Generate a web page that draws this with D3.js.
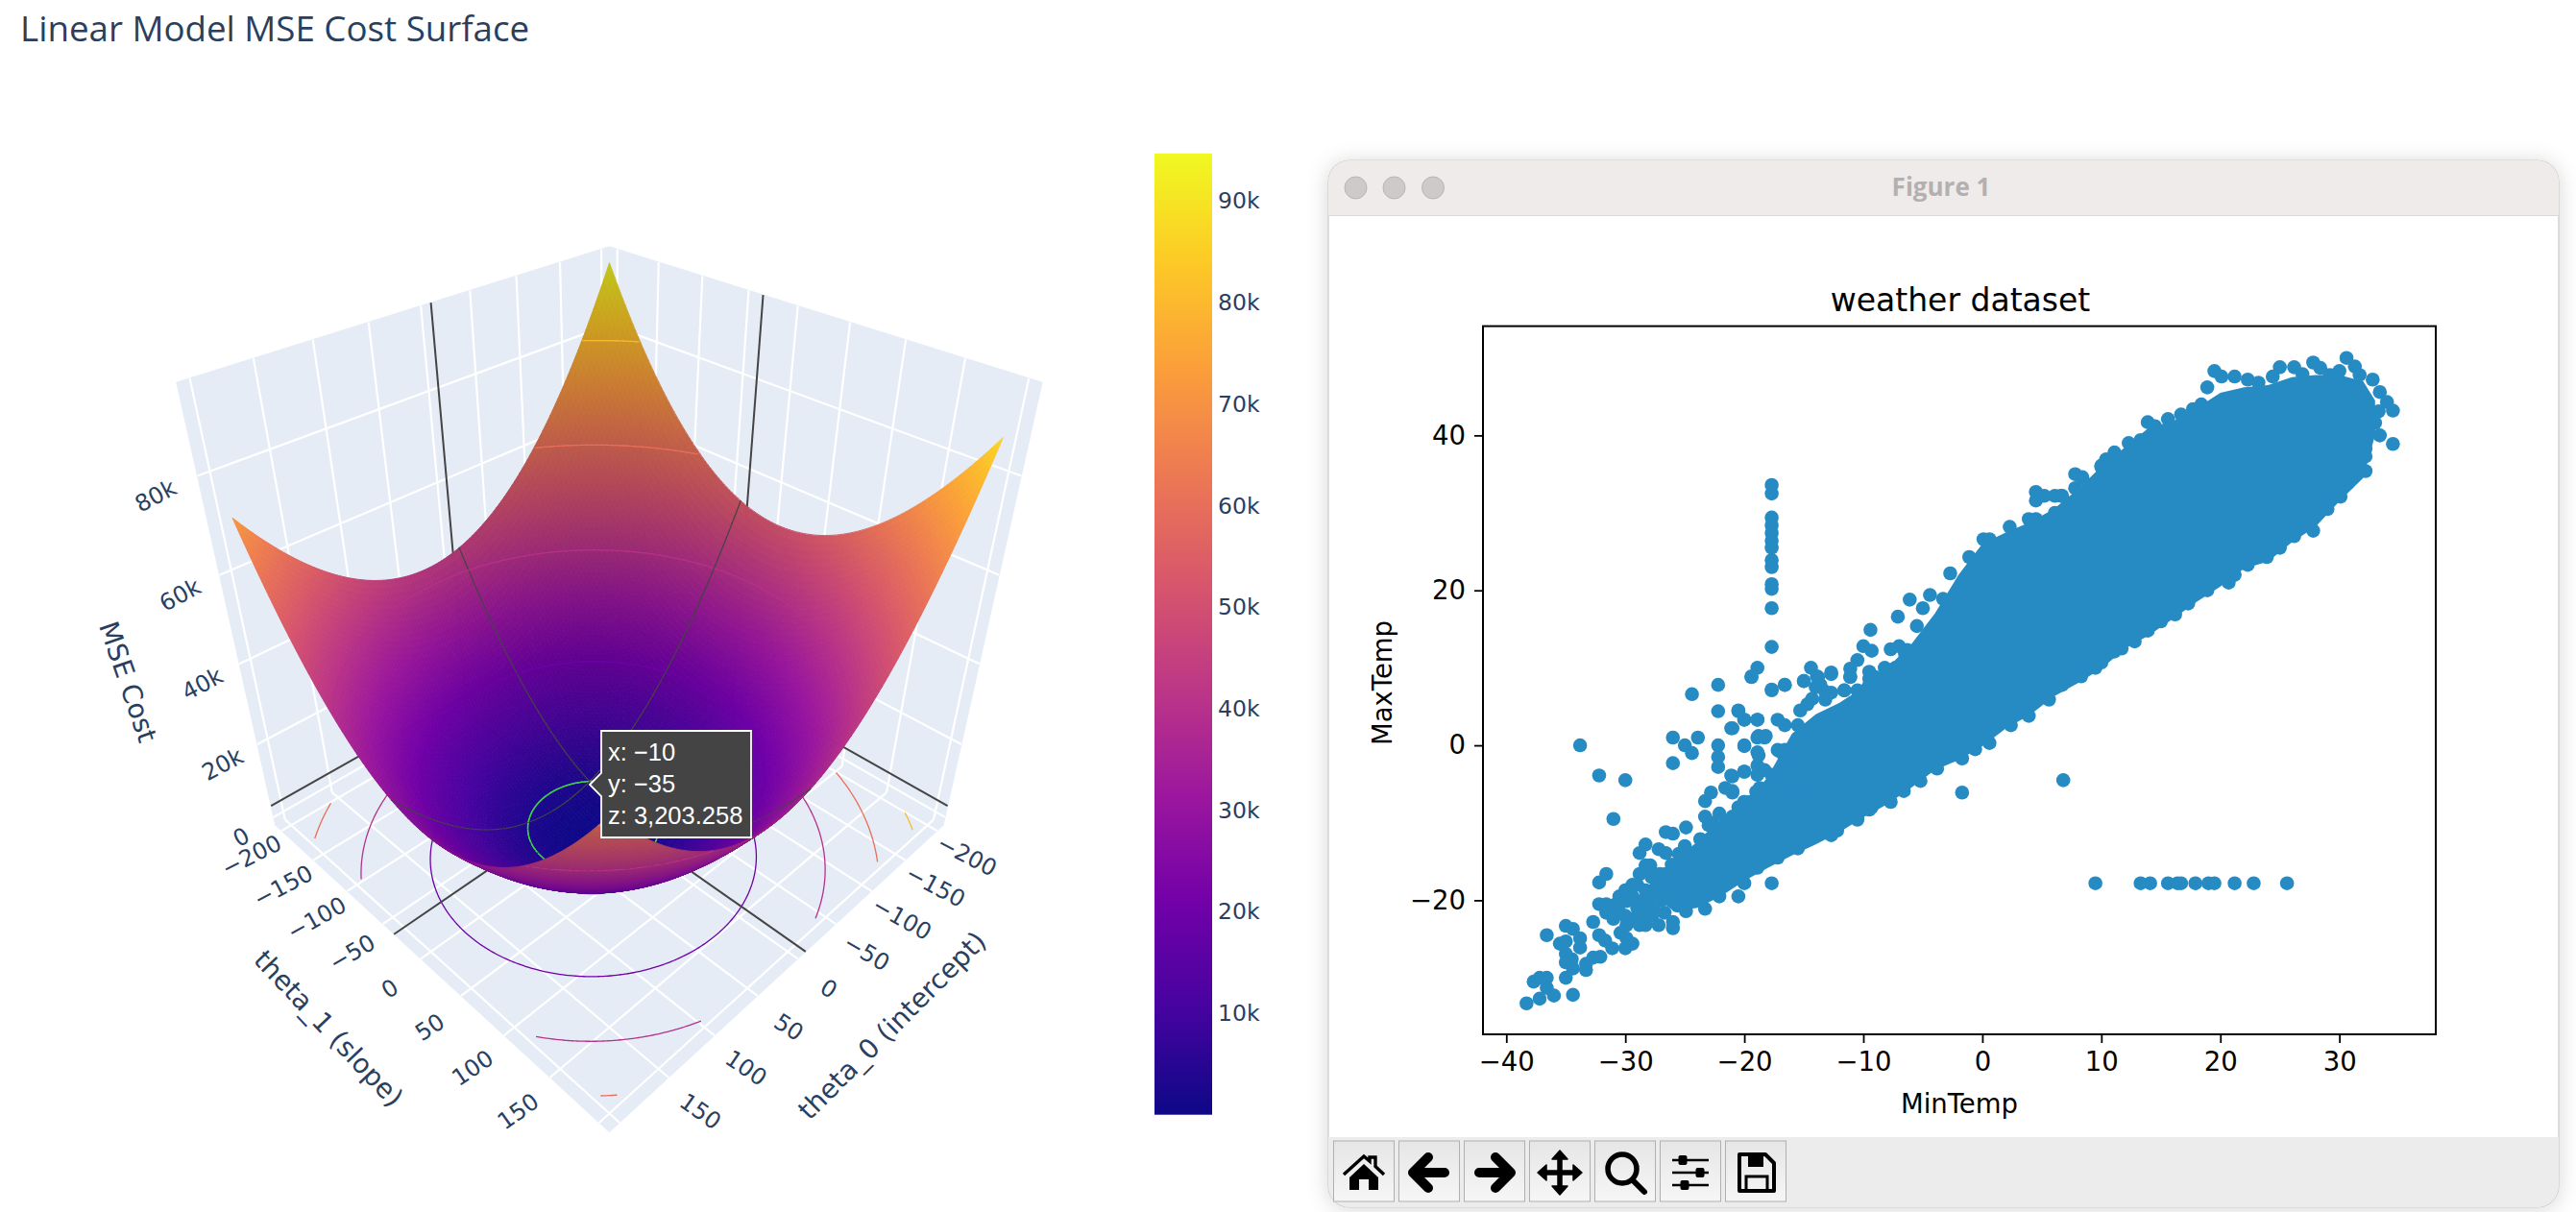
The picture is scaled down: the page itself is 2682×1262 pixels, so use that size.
<!DOCTYPE html>
<html><head><meta charset="utf-8">
<script src="https://cdn.jsdelivr.net/npm/d3@7"></script>
<style>html,body{margin:0;padding:0;background:#fff}svg{display:block}</style>
</head><body><svg id="c" width="2682" height="1262"></svg>
<script>
// ---------- data: cost surface ----------
const theta0Nodes=[-200,-150,-100,-50,0,50,100,150,195];
const theta1Nodes=[-200,-150,-100,-50,0,50,100,150,195];
const costRows=[
[94613,76363,63113,54863,51613,53363,60113,71863,86713],
[74413,56163,42913,34663,31413,33163,39913,51663,66513],
[59213,40963,27713,19463,16213,17963,24713,36463,51313],
[49013,30763,17513,9263,6013,7763,14513,26263,41113],
[43813,25563,12313,4063,813,2563,9313,21063,35913],
[43613,25363,12113,3863,613,2363,9113,20863,35713],
[48413,30163,16913,8663,5413,7163,13913,25663,40513],
[58213,39963,26713,18463,15213,16963,23713,35463,50313],
[71308,53058,39808,31558,28308,30058,36808,48558,63408]];
const plasmaColors=["#0d0887","#46039f","#7201a8","#9c179e","#bd3786","#d8576b","#ed7953","#fb9f3a","#fdca26","#f0f921"];
const contourLevels=[20000,40000,60000,80000];
const hoverPoint={x:-10,y:-35,z:3203.258};
const hoverLines=["x: \u221210","y: \u221235","z: 3,203.258"];
const gridTicks=[-200,-150,-100,-50,0,50,100,150,200];
const labelTicks=[-200,-150,-100,-50,0,50,100,150];
const zTicks=[0,20000,40000,60000,80000];
const colorbarTicks=[10000,20000,30000,40000,50000,60000,70000,80000,90000];
// ---------- data: weather scatter ----------
const coreMinTemp=[-28,-26,-24,-22,-20,-18,-16,-14,-12,-10,-8,-6,-4,-2,0,2,4,6,8,10,12,14,16,18,20,22,24,26,28,30,32,33];
const coreLow=[-19,-21.3,-21,-19.5,-17.5,-15.8,-14.2,-12.8,-11.2,-9.3,-7.6,-5.5,-3.2,-1.9,-0.1,2.2,3.9,6.3,8,9.9,12.5,14.2,16.3,18.5,20.5,22.8,23.7,26.2,28.2,31.5,34.5,40];
const coreHigh=[-18,-15,-12.5,-9.5,-8,-4,1.5,4,5.5,7.5,10,13,17,22,26,27.5,28.8,30.5,33,36,38.5,41,41.8,43.5,45.5,46.2,46.5,47.5,47.8,47.8,47,44.5];
const weatherPoints=[
[-38.3,-33.3],[-37.2,-32.7],[-36,-32.3],[-34.4,-32.2],[-37.7,-30.5],[-37.2,-30],[-36.6,-30],[-36.6,-31.3],[-35,-30],[-33.3,-29],
[-36.6,-24.5],[-35,-23.3],[-34.4,-23.7],[-35.5,-25.6],[-35,-25.3],[-33.8,-24.9],[-35,-26.9],[-35,-28],[-34.4,-28.8],[-33.8,-26.1],
[-34.5,-27.6],[-32.7,-27.4],[-32.1,-27.3],[-33.3,-28.2],[-32.7,-22.8],[-32.2,-24.5],[-31.1,-26.2],[-30,-26.2],[-29.4,-25.6],[-31.7,-25.2],
[-32.2,-20.5],[-31.6,-20.5],[-31.6,-21.6],[-31,-22.4],[-30.5,-19.5],[-30,-18.7],[-29.4,-18],[-29.9,-20.1],[-29.4,-19.5],[-29.9,-23.2],
[-30.4,-24.2],[-29.4,-22.4],[-29.9,-24.9],[-28.8,-23.2],[-28.3,-23.2],[-27.2,-23.2],[-26,-23.6],[-26,-22.8],[-32.2,-17.7],[-31.6,-16.6],
[-28.8,-13.9],[-28.3,-12.8],[-27.2,-13.4],[-26.6,-13.9],[-26.6,-11.2],[-26,-11.4],[-24.9,-10.6],[-28.3,-15.5],[-28.8,-16.6],[-27.8,-17],
[-27.1,-16.6],[-26.6,-16.6],[-28.3,-18.7],[-27.2,-18.7],[-28,-20.7],[-27.8,-22],[-26.7,-21.6],[-25.6,-20.7],[-24.9,-21.4],[-24.5,-19.9],
[-23.3,-21.1],[-22.1,-19.5],[-20.5,-19.5],[-20,-17.8],[-17.7,-17.8],[-18.9,-15.8],[-17.7,-14.5],[-17.2,-14.5],[-15.5,-13.3],[-12.7,-11.6],
[-12.2,-11],[-14.4,-11.6],[-10.5,-9.4],[-9.3,-8],[-24.4,6.6],[-22.2,7.8],[-19.4,8.8],[-17.7,7.1],[-16.6,7.8],[-15,8.3],[-13.8,8.8],[-12.7,9.2],
[-11.1,8.8],[-11.6,7.1],[-10.5,7.1],[-9.5,8.6],[-22.2,4.4],[-20.5,4.4],[-20,3.3],[-18.9,3.3],[-21.1,2.2],[-17.2,3.3],[-16.6,2.6],[-15.5,2.6],
[-26,1],[-23.9,1],[-25,0],[-24.4,-1],[-26,-2.3],[-22.2,0],[-22.2,-1.5],[-22.2,-2.8],[-20,0],[-18.9,1],[-18.3,1],[-18.9,-0.9],[-18.9,-2.6],
[-17.2,-0.6],[-16.6,-0.6],[-15.5,0.5],[-21.1,-3.9],[-20,-3.4],[-18.9,-3.8],[-17.7,-3.8],[-16.6,-3.2],[-18.7,-5.5],[-21.6,-5.5],[-21,-6.1],
[-22.8,-6.1],[-23.3,-7.2],[-23.3,-9.2],[-20,-7.3],[-33.8,0],[-32.2,-3.9],[-30,-4.5],[-31,-9.5],[-24.5,-15.4],[-26.1,-15.4],[-23.7,-12.1],
[-22.1,-8.8],[-20.5,-8],[-17.8,-6.3],
[-29,-21],[-28.5,-20],[-27.5,-21.5],[-27,-20],[-28.5,-22],[-29,-18],[-27.5,-19.5],[-27.9,-15.5],[-29,-20.5],[-30.5,-21.5],[-30.8,-20.5],[-30,-22],[-28.3,-21.5],[-25,-18],[-25.5,-17.5],
[-24.3,-14],[-25,-13],[-25.5,-14],[-23,-10.3],[-22.7,-10],[-21,-9.2],[-19.5,-7.3],[-18,-7.3],[-16.8,-1],[-16.5,-4],[-16,-2],[-15.7,-6],[-17,-6],[-18,-5.5],[-19,-6],
[-14.3,6],[-13.2,5.9],[-12.7,6.8],[-14.7,5.3],[-15.3,4.5],[-11,5.2],[-9.5,9.5],[-9,8.8],[-8.7,7.7],[-9.6,7.5],[-8,9],[-7.3,10],[-6.5,11.8],[-6.3,12.3],[-14,7.5],[-13.6,7.8],
[-17.7,33.6],[-17.7,32.5],[-17.7,29.4],[-17.7,28.4],[-17.7,27.4],[-17.7,26.4],[-17.7,25.5],[-17.7,23.9],[-17.7,23],[-17.7,20.8],[-17.7,20.2],[-17.7,17.7],[-17.7,12.7],[-17.7,7.2],
[-18.9,10],[-19.4,8.9],[-16.6,7.8],[-20.5,4.5],[-20,3.3],[-18.9,3.3],[-21,2.2],[-20,-0.1],[-18.8,1.2],[-18.2,1.2],[-18.8,-1.3],[-17.1,-0.7],
[-20,-3.4],[-21,-4],[-21,-5.9],[-20,-7.3],[-18.3,-3.2],
[-14.4,10],[-15,8.3],[-13.9,8.9],[-12.7,9.4],[-13.2,6.9],[-11.6,7.1],[-11.1,8.9],[-11.1,9.9],[-10.5,11],[-10,12.8],[-9.3,12.2],[-9.4,14.9],
[-8.2,10],[-7.7,12.4],[-7,12.8],[-7.1,16.6],[-6.1,18.8],[-5.5,15.4],[-5,17.7],[-4.4,19.4],[-5,13.3],[-2.7,22.2],[-3.3,18.9],[-1.1,24.3],[0.1,26.6],[0.6,26.6],
[2.3,28.2],[3.9,29.2],[4.5,29.2],[4.5,32.7],[4.5,31.6],[5.2,32.2],[6.1,32.2],[6.7,32.2],[6.1,30],[7.8,35],[8.4,34.6],[7.8,33.2],[10,35.9],[-1.7,-6.1],[6.8,-4.5],
[19.5,48.3],[18.9,46.2],[20.1,47.6],[21.2,47.6],[22.3,47.2],[18.4,44],[17.7,43.4],[16.7,42.7],[15.6,42.1],[13.9,41.7],[14.5,41.2],[12.3,39],[13.3,39.4],[11.1,37.8],
[10.4,36.9],[10,36.1],[8.4,34.4],[6.6,32.2],[25,48.8],[26.2,48.8],[27.8,49.4],[28.4,48.7],[24.4,47.6],[30.6,50],[31.3,48.9],[30,48.3],[31.7,47.8],[32.8,47.2],
[29.2,47.8],[26.9,47.9],[23.2,46.8],
[33.4,45.6],[34,44.3],[34.5,43.2],[33.3,43.1],[33,41.6],[33.4,40],[34.5,38.9],[32.2,38.3],[32.2,37.3],[32.2,35.4],[30.7,33.8],[30.1,32.1],[29,30.5],[27.8,27.7],
[26.2,27],[25,25.5],[23.9,24.3],[22.3,23.3],[21.2,22],[20.7,21],[18.9,20],[17.3,18.3],[16.2,16.9],[15,16],[13.9,14.8],[12.8,13.4],[11.7,12.5],[11.1,12.1],[10,10.7],[9.5,10],[8.3,8.9],[6.7,7.8],
[-10.5,-9.6],[-9.5,-8.3],[-7.7,-7.3],[-6.6,-5.9],[-5.2,-4.6],[-3.8,-3],[-1.7,-1.7],[-0.6,-0.5],[0.6,0.3],[2.4,2.6],[3.9,3.8],[5.6,5.9],
[9.5,-17.8],[13.3,-17.8],[14.1,-17.8],[15.6,-17.8],[16.4,-17.8],[16.7,-17.8],[17.9,-17.8],[19,-17.8],[19.5,-17.8],[21.2,-17.8],[22.8,-17.8],[25.6,-17.8]];
const scatterXTicks=[-40,-30,-20,-10,0,10,20,30];
const scatterYTicks=[-20,0,20,40];

const svg=d3.select("#c");
const PLY='"DejaVu Sans"', INK="#2a3f5f";
const defs=svg.append("defs");

// ---------- camera ----------
const D=4.48,F=1243.6,CX=634.4,CY=658.4;
const xN=d3.scaleLinear().domain([-210,210]).range([-1,1]);
const yN=d3.scaleLinear().domain([-210,210]).range([-1,1]);
const zN=d3.scaleLinear().domain([-2300,97000]).range([-1,1]);
const S2=Math.SQRT2,S3=Math.sqrt(3),S6=Math.sqrt(6);
const depthOf=(a,b,c)=>D-(a+b+c)/S3;
function proj(a,b,c){const d=depthOf(a,b,c);return [CX+F*((b-a)/S2)/d, CY-F*((2*c-a-b)/S6)/d];}
const P=(x,y,z)=>proj(xN(x),yN(y),zN(z));
const xLo=-210,xHi=210,zLo=-2300,zHi=97000;
const line=d3.line();

// colour
const zMax=94700;
const colorScale=d3.scaleLinear().domain(plasmaColors.map((_,i)=>i/9*zMax)).range(plasmaColors).clamp(true);

// smooth read of the value table (quadratic through the three nearest nodes)
function weights(nodes,t){
  let i=d3.bisectLeft(nodes,t); i=Math.max(1,Math.min(nodes.length-2,(i>0&&t-nodes[i-1]<nodes[i]-t)?i-1:i));
  const [a,b,c]=[nodes[i-1],nodes[i],nodes[i+1]];
  return {i,w:[(t-b)*(t-c)/((a-b)*(a-c)),(t-a)*(t-c)/((b-a)*(b-c)),(t-a)*(t-b)/((c-a)*(c-b))]};
}
function zAt(t0,t1){
  const A=weights(theta0Nodes,t0),B=weights(theta1Nodes,t1);let s=0;
  for(let p=0;p<3;p++)for(let q=0;q<3;q++)s+=A.w[p]*B.w[q]*costRows[A.i-1+p][B.i-1+q];
  return s;
}
const t0Min=theta0Nodes[0],t0Max=theta0Nodes[8],t1Min=theta1Nodes[0],t1Max=theta1Nodes[8];

// ---------- scene walls ----------
const scene=svg.append("g");
const wallFill="#E5ECF6";
const walls=[
 [[xLo,xLo,zLo],[xHi,xLo,zLo],[xHi,xHi,zLo],[xLo,xHi,zLo]],
 [[xLo,xLo,zLo],[xHi,xLo,zLo],[xHi,xLo,zHi],[xLo,xLo,zHi]],
 [[xLo,xLo,zLo],[xLo,xHi,zLo],[xLo,xHi,zHi],[xLo,xLo,zHi]]];
scene.selectAll("path.wall").data(walls).join("path").attr("class","wall")
 .attr("fill",wallFill).attr("stroke",wallFill).attr("stroke-width",1)
 .attr("d",w=>line(w.map(p=>P(...p)))+"Z");
const gridSegs=[];
gridTicks.forEach(t=>{
 gridSegs.push([[t,xLo,zLo],[t,xHi,zLo]]); gridSegs.push([[xLo,t,zLo],[xHi,t,zLo]]);
 gridSegs.push([[t,xLo,zLo],[t,xLo,zHi]]); gridSegs.push([[xLo,t,zLo],[xLo,t,zHi]]);
});
zTicks.forEach(z=>{gridSegs.push([[xLo,xLo,z],[xHi,xLo,z]]);gridSegs.push([[xLo,xLo,z],[xLo,xHi,z]]);});
scene.selectAll("path.grid").data(gridSegs).join("path").attr("class","grid")
 .attr("fill","none").attr("stroke","#fff").attr("stroke-width",2.2)
 .attr("d",s=>line(s.map(p=>P(...p))));

// ---------- contours from the value table ----------
const N=220,vals=new Float64Array(N*N);
const colT0=d3.scaleLinear().domain([0.5,N-0.5]).range([t0Min,t0Max]);
const colT1=d3.scaleLinear().domain([0.5,N-0.5]).range([t1Min,t1Max]);
for(let j=0;j<N;j++)for(let i=0;i<N;i++)vals[j*N+i]=zAt(colT0(i+0.5),colT1(j+0.5));
function contourPieces(level){
  const g=d3.contours().size([N,N]).thresholds([level])(vals)[0];
  const out=[];
  g.coordinates.forEach(poly=>poly.forEach(ring=>{
    let cur=[];
    ring.forEach(([a,b])=>{
      if(a<0.6||a>N-0.6||b<0.6||b>N-0.6){if(cur.length>1)out.push(cur);cur=[];}
      else cur.push([colT0(a),colT1(b)]);
    });
    if(cur.length>1)out.push(cur);
  }));
  return out;
}
const levelPieces=contourLevels.map(l=>({level:l,color:colorScale(l),pieces:contourPieces(l)}));
const hoverPieces=contourPieces(hoverPoint.z);
const HOVER_GREEN="#3ecf4a",SPIKE="#444";

// floor contours
const floorG=scene.append("g");
levelPieces.forEach(L=>L.pieces.forEach(pc=>{
  floorG.append("path").attr("fill","none").attr("stroke",L.color).attr("stroke-width",1.3)
   .attr("d",line(pc.map(([a,b])=>P(a,b,zLo))));
}));
hoverPieces.forEach(pc=>floorG.append("path").attr("fill","none").attr("stroke",HOVER_GREEN).attr("stroke-width",1.6)
   .attr("d",line(pc.map(([a,b])=>P(a,b,zLo)))));

// spike projections on floor and walls
const spikes=[
 [[hoverPoint.x,xLo,zLo],[hoverPoint.x,xHi,zLo]],
 [[xLo,hoverPoint.y,zLo],[xHi,hoverPoint.y,zLo]],
 [[hoverPoint.x,xLo,zLo],[hoverPoint.x,xLo,zHi]],
 [[xLo,hoverPoint.y,zLo],[xLo,hoverPoint.y,zHi]],
 [[xLo,xLo,hoverPoint.z],[xHi,xLo,hoverPoint.z]],
 [[xLo,xLo,hoverPoint.z],[xLo,xHi,hoverPoint.z]]];
scene.selectAll("path.spike").data(spikes).join("path").attr("class","spike")
 .attr("fill","none").attr("stroke",SPIKE).attr("stroke-width",2)
 .attr("d",s=>line(s.map(p=>P(...p))));

// ---------- surface: painter's order ----------
const M=120,prims=[];
const mT0=d3.scaleLinear().domain([0,M]).range([t0Min,t0Max]);
const mT1=d3.scaleLinear().domain([0,M]).range([t1Min,t1Max]);
for(let i=0;i<M;i++)for(let j=0;j<M;j++){
  const q=[[i,j],[i+1,j],[i+1,j+1],[i,j+1]].map(([a,b])=>{const t0=mT0(a),t1=mT1(b);return [t0,t1,zAt(t0,t1)];});
  const nq=q.map(p=>[xN(p[0]),yN(p[1]),zN(p[2])]);
  const du=[nq[2][0]-nq[0][0],nq[2][1]-nq[0][1],nq[2][2]-nq[0][2]];
  const dv=[nq[3][0]-nq[1][0],nq[3][1]-nq[1][1],nq[3][2]-nq[1][2]];
  const n=[du[1]*dv[2]-du[2]*dv[1],du[2]*dv[0]-du[0]*dv[2],du[0]*dv[1]-du[1]*dv[0]];
  const len=Math.hypot(...n);
  const s=(n[0]+n[1])/len, shade=1-0.23*(s*s/2);
  const zc=d3.mean(q,p=>p[2]);
  const c=d3.rgb(colorScale(zc));
  const col=d3.rgb(c.r*shade,c.g*shade,c.b*shade).formatHex();
  const dep=d3.mean(nq,p=>depthOf(...p));
  prims.push({dep,d:line(q.map(p=>P(p[0],p[1],p[2])))+"Z",fill:col,stroke:col,sw:0.9});
}
function addCurve(pts,color,sw){
  for(let k=0;k+1<pts.length;k++){
    const a=pts[k],b=pts[k+1];
    const za=zAt(a[0],a[1]),zb=zAt(b[0],b[1]);
    const dep=(depthOf(xN(a[0]),yN(a[1]),zN(za))+depthOf(xN(b[0]),yN(b[1]),zN(zb)))/2-0.012;
    prims.push({dep,d:line([P(a[0],a[1],za),P(b[0],b[1],zb)]),fill:"none",stroke:color,sw});
  }
}
levelPieces.forEach(L=>L.pieces.forEach(pc=>addCurve(pc,L.color,1.2)));
hoverPieces.forEach(pc=>addCurve(pc,HOVER_GREEN,1.5));
addCurve(d3.range(0,M+1).map(k=>[hoverPoint.x,mT1(k)]),SPIKE,1.2);
addCurve(d3.range(0,M+1).map(k=>[mT0(k),hoverPoint.y]),SPIKE,1.2);
prims.sort((a,b)=>b.dep-a.dep);
scene.append("g").selectAll("path").data(prims).join("path")
 .attr("d",p=>p.d).attr("fill",p=>p.fill).attr("stroke",p=>p.stroke).attr("stroke-width",p=>p.sw).attr("stroke-linecap","round");

// ---------- 3D axis labels ----------
const fmtTick=v=>String(v).replace("-","\u2212");
const lab=svg.append("g").attr("font-family",PLY).attr("fill",INK).attr("text-anchor","middle").attr("dominant-baseline","central");
labelTicks.forEach(t=>{
  const yn=yN(t);
  const p=proj(1,yn,-1), rot=-27-(yn+0.95)*5;
  lab.append("text").attr("font-size",24).attr("transform",`translate(${p[0]-31-(yn+0.95)*1.2},${p[1]+26+(yn+0.95)*5.7}) rotate(${rot})`).text(fmtTick(t));
  const xn=xN(t);
  const q=proj(xn,1,-1), rot2=27+(xn+0.95)*5;
  lab.append("text").attr("font-size",24).attr("transform",`translate(${q[0]+31+(xn+0.95)*1.2},${q[1]+26+(xn+0.95)*5.7}) rotate(${rot2})`).text(fmtTick(t));
});
const fmtK=v=>v===0?"0":(v/1000)+"k";
zTicks.forEach(z=>{
  const zn=zN(z), p=proj(1,-1,zn);
  lab.append("text").attr("font-size",24).attr("transform",`translate(${p[0]-36-(zn+0.55)*6},${p[1]+21}) rotate(-28)`).text(fmtK(z));
});
[["theta_1 (slope)",342,1071,46.7],["theta_0 (intercept)",929,1068,-45],["MSE Cost",133,710,71]].forEach(([s,x,y,r])=>{
  lab.append("text").attr("font-size",28).attr("transform",`translate(${x},${y}) rotate(${r})`).text(s);
});

// title
svg.append("text").attr("x",21).attr("y",43).attr("font-family",'"Open Sans"').attr("font-size",36.7).attr("fill",INK).text("Linear Model MSE Cost Surface");

// ---------- colourbar ----------
const cbY=d3.scaleLinear().domain([0,10000]).range([1160.7,1055]);
const cbGrad=defs.append("linearGradient").attr("id","cb").attr("x1",0).attr("x2",0).attr("y1",1).attr("y2",0);
plasmaColors.forEach((c,i)=>cbGrad.append("stop").attr("offset",i/9).attr("stop-color",c));
svg.append("rect").attr("x",1202).attr("width",60).attr("y",cbY(zMax)).attr("height",cbY(0)-cbY(zMax)).attr("fill","url(#cb)");
svg.append("g").selectAll("text").data(colorbarTicks).join("text")
 .attr("x",1268).attr("y",d=>cbY(d)).attr("dominant-baseline","central").attr("font-family",PLY).attr("font-size",23.5).attr("fill",INK)
 .text(d=>(d/1000)+"k");

// ---------- hover label ----------
const tip=svg.append("g");
tip.append("path").attr("d","M614,817L626,805V761H782V872H626V829Z").attr("fill","#444").attr("stroke","#fff").attr("stroke-width",1.8);
tip.selectAll("text").data(hoverLines).join("text").attr("x",633).attr("y",(d,i)=>792+i*33)
 .attr("font-family",'"Liberation Sans"').attr("font-size",25.5).attr("fill","#fff").text(d=>d);

// ---------- matplotlib window ----------
const shadow=defs.append("filter").attr("id","ws").attr("x","-5%").attr("y","-5%").attr("width","110%").attr("height","110%");
shadow.append("feDropShadow").attr("dx",0).attr("dy",2).attr("stdDeviation",11).attr("flood-color","#000").attr("flood-opacity",0.16);
const win=svg.append("g");
const WX=1383,WY=167,WW=1281,WH=1090,WR=22;
win.append("rect").attr("x",WX).attr("y",WY).attr("width",WW).attr("height",WH).attr("rx",WR).attr("fill","#fff").attr("stroke","#c8c8c8").attr("stroke-width",1.2).attr("filter","url(#ws)");
defs.append("clipPath").attr("id","wc").append("rect").attr("x",WX).attr("y",WY).attr("width",WW).attr("height",WH).attr("rx",WR);
const inner=win.append("g").attr("clip-path","url(#wc)");
inner.append("rect").attr("x",WX).attr("y",WY).attr("width",WW).attr("height",57).attr("fill","#F0EBEB");
inner.append("line").attr("x1",WX).attr("x2",WX+WW).attr("y1",224.5).attr("y2",224.5).attr("stroke","#dcd8d8").attr("stroke-width",1.2);
inner.append("rect").attr("x",WX).attr("y",1184).attr("width",WW).attr("height",WH).attr("fill","#ECECEC");
[1411.5,1451.5,1492].forEach(x=>win.append("circle").attr("cx",x).attr("cy",195.5).attr("r",11.5).attr("fill","#CECACA").attr("stroke","#B9B5B5").attr("stroke-width",1));
win.append("text").attr("x",2021).attr("y",204).attr("text-anchor","middle").attr("font-family",'"Open Sans"').attr("font-weight",700).attr("font-size",26).attr("fill","#B4B0B0").text("Figure 1");

// axes
const AX={l:1544,r:2536,t:339.6,b:1077};
const sx=d3.scaleLinear().domain([-41.96,38.1]).range([AX.l,AX.r]);
const sy=d3.scaleLinear().domain([-37.3,54.1]).range([AX.b,AX.t]);
const plot=win.append("g");
const band=d3.area().x((d,i)=>sx(coreMinTemp[i])).y0((d,i)=>sy(coreLow[i])).y1((d,i)=>sy(coreHigh[i]));
const DOT="#268BC3";
plot.append("path").attr("d",band(coreMinTemp)).attr("fill",DOT);
plot.selectAll("circle").data(weatherPoints).join("circle").attr("cx",d=>sx(d[0])).attr("cy",d=>sy(d[1])).attr("r",7.3).attr("fill",DOT);
const axX=d3.axisBottom(sx).tickValues(scatterXTicks).tickSize(9).tickPadding(9).tickFormat(fmtTick);
const axY=d3.axisLeft(sy).tickValues(scatterYTicks).tickSize(9).tickPadding(9).tickFormat(fmtTick);
const gx=win.append("g").attr("transform",`translate(0,${AX.b})`).call(axX);
const gy=win.append("g").attr("transform",`translate(${AX.l},0)`).call(axY);
[gx,gy].forEach(g=>{g.selectAll(".domain").remove();g.selectAll("line").attr("stroke","#000").attr("stroke-width",1.8);
 g.selectAll("text").attr("font-family",PLY).attr("font-size",27.5).attr("fill","#000");});
win.append("rect").attr("x",AX.l).attr("y",AX.t).attr("width",AX.r-AX.l).attr("height",AX.b-AX.t).attr("fill","none").attr("stroke","#000").attr("stroke-width",2);
const mpl=win.append("g").attr("font-family",PLY).attr("fill","#000").attr("text-anchor","middle");
mpl.append("text").attr("x",2041).attr("y",324).attr("font-size",33).text("weather dataset");
mpl.append("text").attr("x",2040).attr("y",1159).attr("font-size",27.5).text("MinTemp");
mpl.append("text").attr("transform","translate(1449,711) rotate(-90)").attr("font-size",27.5).text("MaxTemp");

// toolbar
const btnGrad=defs.append("linearGradient").attr("id","bg").attr("x1",0).attr("x2",0).attr("y1",0).attr("y2",1);
btnGrad.append("stop").attr("offset",0).attr("stop-color","#E6E6E6");btnGrad.append("stop").attr("offset",1).attr("stop-color","#F6F6F6");
const icons=[
 g=>{g.append("path").attr("d","M-21,2L0,-17L6,-12V-16H12V-6.5L21,2").attr("fill","none").attr("stroke","#000").attr("stroke-width",3.4);
     g.append("path").attr("d","M0,-9L-15,5V18H-5V7H5V18H15V5Z").attr("fill","#000");},
 g=>{g.append("path").attr("d","M16,0H-16M-1,-16L-17,0L-1,16").attr("fill","none").attr("stroke","#000").attr("stroke-width",10).attr("stroke-linecap","round").attr("stroke-linejoin","round");},
 g=>{g.append("path").attr("d","M-16,0H16M1,-16L17,0L1,16").attr("fill","none").attr("stroke","#000").attr("stroke-width",10).attr("stroke-linecap","round").attr("stroke-linejoin","round");},
 g=>{g.append("path").attr("d","M-17,0H17M0,-17V17").attr("stroke","#000").attr("stroke-width",5.5);
     g.append("path").attr("d","M0,-23L8,-14H-8ZM0,23L8,14H-8ZM-23,0L-14,8V-8ZM23,0L14,8V-8Z").attr("fill","#000").attr("stroke","#000").attr("stroke-width",1.5).attr("stroke-linejoin","round");},
 g=>{g.append("circle").attr("cx",-3).attr("cy",-4).attr("r",15).attr("fill","none").attr("stroke","#000").attr("stroke-width",5.5);
     g.append("path").attr("d","M8,8L20,20").attr("stroke","#000").attr("stroke-width",6).attr("stroke-linecap","round");},
 g=>{g.append("path").attr("d","M-19,-13H19M-19,0H19M-19,13H19").attr("stroke","#000").attr("stroke-width",2.6);
     [[-8,-13],[10,0],[-6,13]].forEach(([x,y])=>g.append("rect").attr("x",x-4.5).attr("y",y-5).attr("width",9).attr("height",10).attr("rx",2).attr("fill","#000"));},
 g=>{g.append("path").attr("d","M-17,-19H10L19,-10V19H-17Z").attr("fill","none").attr("stroke","#000").attr("stroke-width",4).attr("stroke-linejoin","round");
     g.append("path").attr("d","M-8,-19H8V-6H-8Z").attr("fill","#000");
     g.append("path").attr("d","M-10,18V4H12V18").attr("fill","none").attr("stroke","#000").attr("stroke-width",3);}
];
const tb=win.append("g");
icons.forEach((fn,i)=>{
  const x=1388.5+68*i;
  tb.append("rect").attr("x",x).attr("y",1188).attr("width",63).attr("height",63).attr("fill","url(#bg)").attr("stroke","#B0B0B0").attr("stroke-width",1);
  fn(tb.append("g").attr("transform",`translate(${x+31.5},1221)`));
});
</script></body></html>
